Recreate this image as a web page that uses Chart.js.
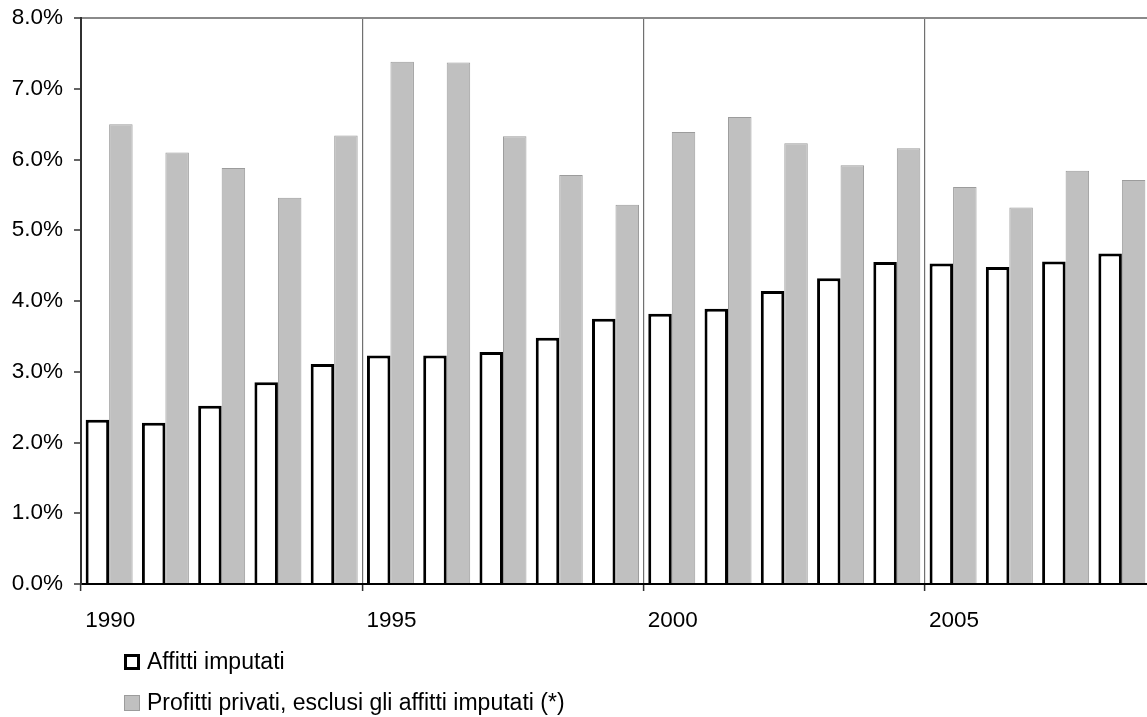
<!DOCTYPE html>
<html lang="it">
<head>
<meta charset="utf-8">
<title>Affitti imputati e profitti privati</title>
<script src="https://cdn.jsdelivr.net/npm/chart.js@4/dist/chart.umd.min.js"></script>
<style>
  html, body { margin: 0; padding: 0; background: #ffffff; overflow: hidden; }
  #wrap { position: relative; width: 1147px; height: 717px; overflow: hidden; }
  canvas { display: block; }
</style>
</head>
<body>
<div id="wrap"><canvas id="chart" width="1150" height="717"></canvas></div>
<script>
// Years on the horizontal axis
const years = [1990, 1991, 1992, 1993, 1994, 1995, 1996, 1997, 1998, 1999,
               2000, 2001, 2002, 2003, 2004, 2005, 2006, 2007, 2008];

// Imputed rents, percent
const affittiImputati = [2.32, 2.28, 2.52, 2.85, 3.11, 3.23, 3.23, 3.28, 3.48, 3.75,
                         3.82, 3.89, 4.14, 4.32, 4.55, 4.53, 4.48, 4.56, 4.67];

// Private profits excluding imputed rents, percent
const profittiPrivati = [6.50, 6.10, 5.88, 5.46, 6.34, 7.38, 7.37, 6.33, 5.78, 5.36,
                         6.39, 6.60, 6.23, 5.92, 6.16, 5.61, 5.32, 5.84, 5.71];

// Series names
const seriesLabels = ['Affitti imputati', 'Profitti privati, esclusi gli affitti imputati (*)'];

// Vertical axis range, percent
const yMin = 0, yMax = 8, yStep = 1;

const FONT = '"Liberation Sans", Arial, Helvetica, sans-serif';
Chart.defaults.font.family = FONT;
Chart.defaults.font.size = 22.5;
Chart.defaults.color = '#000000';

// Legend drawn as a vertical list below the plot
const stackedLegend = {
  id: 'stackedLegend',
  afterDraw(chart, args, opts) {
    const ctx = chart.ctx;
    ctx.save();
    ctx.font = opts.fontSize + 'px ' + FONT;
    ctx.textBaseline = 'middle';
    ctx.textAlign = 'left';
    chart.data.datasets.forEach((ds, i) => {
      const cy = opts.top + i * opts.rowGap;
      const bx = opts.left, size = opts.box;
      const bw = ds.borderWidth;
      ctx.fillStyle = ds.backgroundColor;
      ctx.fillRect(bx, cy - size / 2, size, size);
      ctx.lineWidth = bw;
      ctx.strokeStyle = ds.borderColor;
      ctx.strokeRect(bx + bw / 2, cy - size / 2 + bw / 2, size - bw, size - bw);
      ctx.fillStyle = '#000000';
      ctx.fillText(ds.label, bx + size + opts.gap, cy + 1);
    });
    ctx.restore();
  }
};

new Chart(document.getElementById('chart'), {
  type: 'bar',
  data: {
    labels: years,
    datasets: [
      {
        label: seriesLabels[0],
        data: affittiImputati,
        backgroundColor: '#ffffff',
        borderColor: '#000000',
        borderWidth: 3
      },
      {
        label: seriesLabels[1],
        data: profittiPrivati,
        backgroundColor: '#c0c0c0',
        borderColor: '#9c9c9c',
        borderWidth: 1
      }
    ]
  },
  options: {
    responsive: false,
    animation: false,
    devicePixelRatio: 1,
    layout: { padding: { top: 18, right: 0, bottom: 67, left: 0 } },
    datasets: {
      bar: { categoryPercentage: 0.835, barPercentage: 1.0 }
    },
    plugins: {
      legend: { display: false },
      tooltip: { enabled: false },
      stackedLegend: { left: 124, top: 662, rowGap: 41, box: 16, gap: 7, fontSize: 23 }
    },
    scales: {
      x: {
        offset: true,
        grid: {
          offset: true,
          drawOnChartArea: true,
          color: (c) => (c.index > 0 && c.index % 5 === 0) ? '#707070' : 'rgba(0,0,0,0)',
          tickColor: (c) => (c.index % 5 === 0) ? '#303030' : 'rgba(0,0,0,0)',
          lineWidth: 1.2,
          tickLength: 7,
          tickWidth: 1.5
        },
        border: { display: true, color: '#000000', width: 2 },
        ticks: {
          autoSkip: false,
          maxRotation: 0,
          minRotation: 0,
          align: 'start',
          labelOffset: -24,
          padding: 16,
          callback: function (value, index) {
            const y = years[index];
            return (y % 5 === 0) ? String(y) : '';
          }
        }
      },
      y: {
        min: yMin,
        max: yMax,
        afterFit: (scale) => {
          scale.width = 81;
          scale.paddingTop = 0;
          scale.paddingBottom = 0;
        },
        grid: {
          color: (c) => (c.tick && Math.abs(c.tick.value - yMax) < 1e-9) ? '#8a8a8a' : 'rgba(0,0,0,0)',
          tickColor: '#303030',
          lineWidth: 2,
          tickLength: 7,
          tickWidth: 1.5
        },
        border: { display: true, color: '#303030', width: 2 },
        ticks: {
          stepSize: yStep,
          padding: 11,
          callback: (v) => Number(v).toFixed(1) + '%'
        }
      }
    }
  },
  plugins: [stackedLegend]
});
</script>
</body>
</html>
